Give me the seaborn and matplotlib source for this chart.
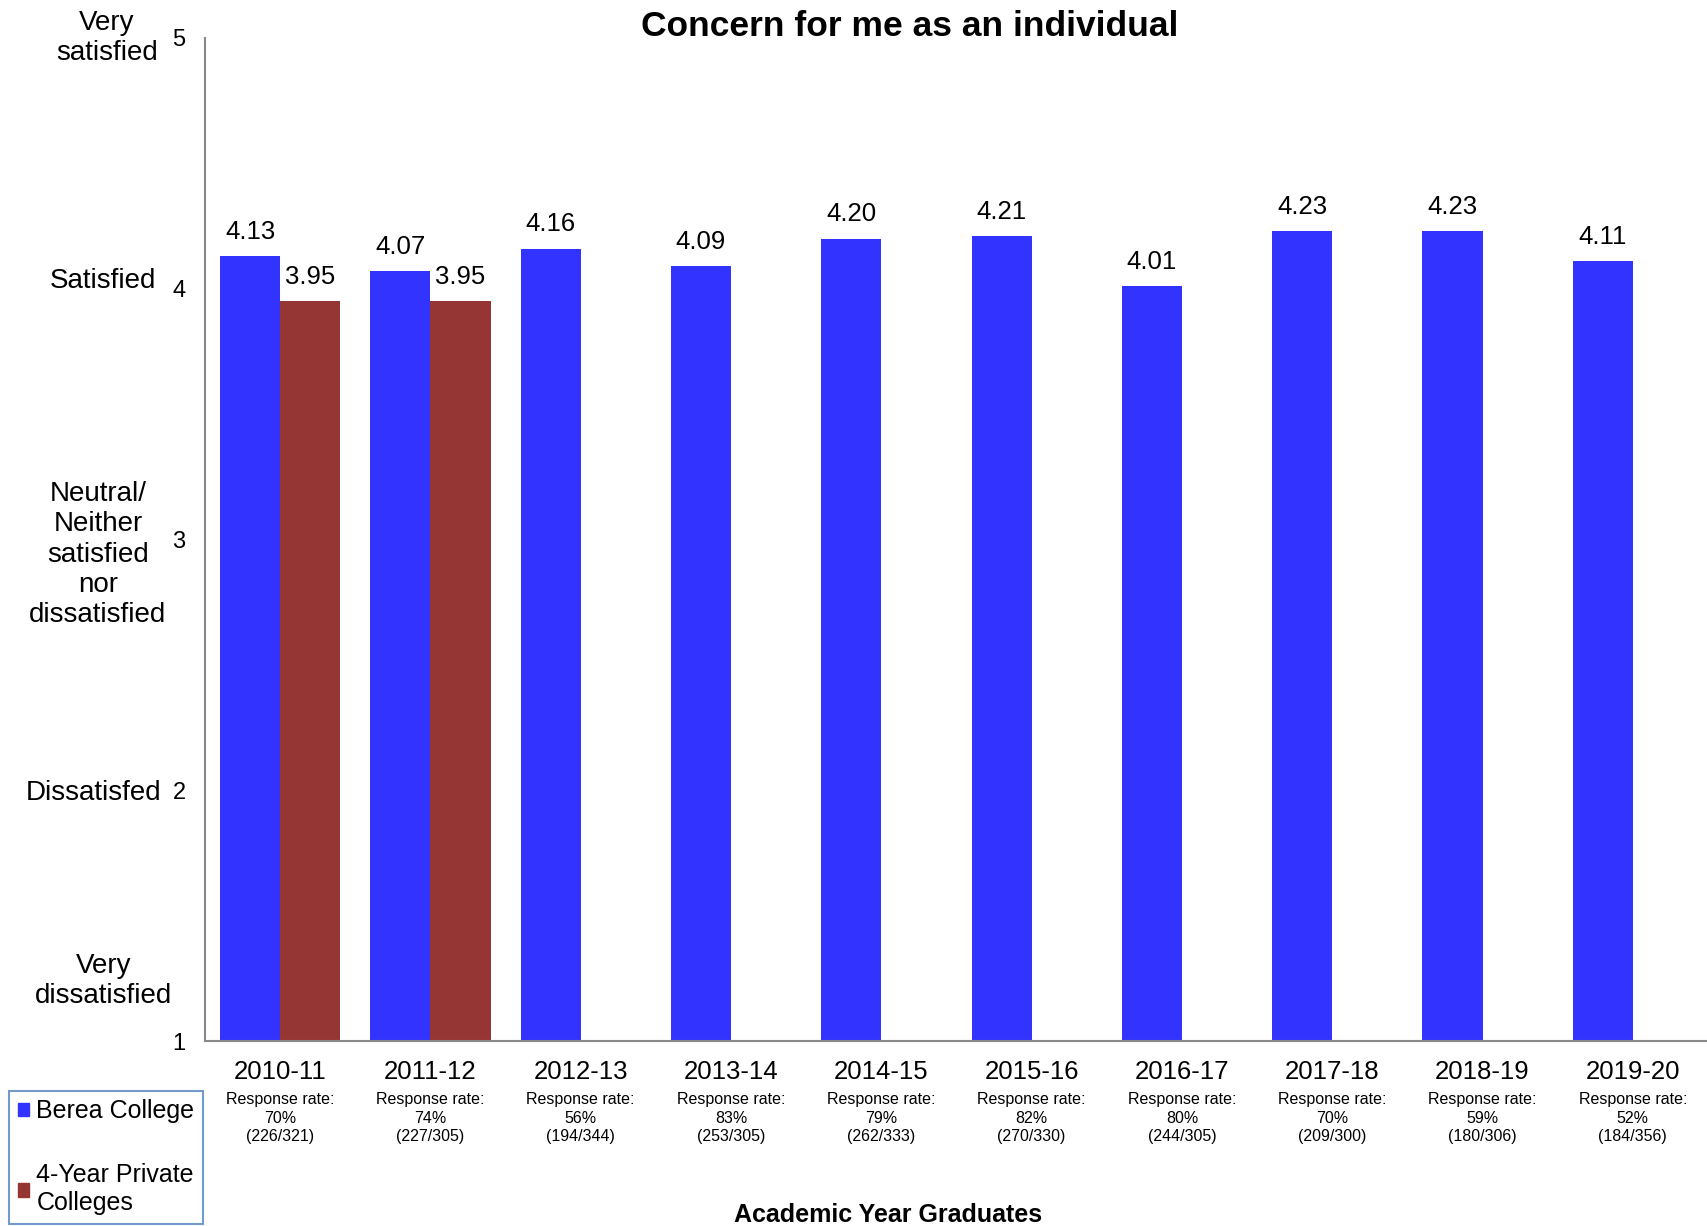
import numpy as np
import pandas as pd
import seaborn as sns
import matplotlib.pyplot as plt
import matplotlib.transforms as mtransforms
from matplotlib.patches import Patch

# Data
years = ["2010-11", "2011-12", "2012-13", "2013-14", "2014-15",
         "2015-16", "2016-17", "2017-18", "2018-19", "2019-20"]
berea = [4.13, 4.07, 4.16, 4.09, 4.20, 4.21, 4.01, 4.23, 4.23, 4.11]
private_years = ["2010-11", "2011-12"]
private = [3.95, 3.95]
response_rates = ["70%\n(226/321)", "74%\n(227/305)", "56%\n(194/344)", "83%\n(253/305)",
                  "79%\n(262/333)", "82%\n(270/330)", "80%\n(244/305)", "70%\n(209/300)",
                  "59%\n(180/306)", "52%\n(184/356)"]
scale_labels = ["Very\ndissatisfied", "Dissatisfed", "Neutral/\nNeither\nsatisfied\nnor\ndissatisfied",
                "Satisfied", "Very\nsatisfied"]

groups = ["Berea College", "4-Year Private Colleges"]
colors = ["#3333FF", "#963634"]

df = pd.concat([
    pd.DataFrame({"year": years, "score": berea, "group": groups[0]}),
    pd.DataFrame({"year": private_years, "score": private, "group": groups[1]}),
])

sns.set_style("white", rc={"text.color": "black", "xtick.color": "black", "ytick.color": "black"})
plt.rcParams["font.family"] = ["Liberation Sans", "DejaVu Sans"]

fig = plt.figure(figsize=(17.08, 12.26), dpi=100)
ax = fig.add_axes([205 / 1708, 1 - 1041 / 1226, 1 - 205 / 1708, (1041 - 38) / 1226])

sns.barplot(data=df, x="year", y="score", hue="group", order=years, hue_order=groups,
            palette=colors, width=0.8, saturation=1, linewidth=0, legend=False, ax=ax)

# value labels
for cont in ax.containers:
    ax.bar_label(cont, fmt="%.2f", padding=9, fontsize=18.5)

ax.set_ylim(1, 5)
ax.set_xlim(-0.5, len(years) - 0.5)
ax.set_yticks([1, 2, 3, 4, 5])
ax.set_yticklabels(["1", "2", "3", "4", "5"], fontsize=17)
ax.set_xticks(range(len(years)))
ax.set_xticklabels(years, fontsize=18.5)
ax.set_xticks(np.arange(-0.5, len(years), 1), minor=True)
ax.tick_params(axis="x", which="major", length=0, pad=14)
ax.tick_params(axis="x", which="minor", length=7, color="#888888", direction="out")
ax.tick_params(axis="y", length=6, color="#888888", direction="out", pad=8)
ax.set_xlabel("")
ax.set_ylabel("")

for side in ["top", "right"]:
    ax.spines[side].set_visible(False)
for side in ["left", "bottom"]:
    ax.spines[side].set_color("#888888")
    ax.spines[side].set_linewidth(1.5)

# descriptive scale labels on the left
trans_y = mtransforms.blended_transform_factory(fig.transFigure, ax.transData)
label_x = [104, 94, 98, 156, 107]
label_y = [1.24, 1.99, 2.94, 4.03, 5.0]
label_ha = ["center", "center", "center", "right", "center"]
for txt, lx, ly, ha in zip(scale_labels, label_x, label_y, label_ha):
    ax.text(lx / 1708, ly, txt, transform=trans_y, ha=ha, va="center",
            fontsize=20, linespacing=1.22, multialignment="center")

# response rates under the year labels
trans_x = mtransforms.blended_transform_factory(ax.transData, fig.transFigure)
for i, rr in enumerate(response_rates):
    ax.text(i, 1 - 1092 / 1226, "Response rate:\n" + rr, transform=trans_x,
            ha="center", va="top", fontsize=11.5, linespacing=1.3)

fig.text(910 / 1708, 1 - 26 / 1226, "Concern for me as an individual",
         ha="center", va="center", fontsize=25.5, fontweight="bold")
fig.text(888 / 1708, 1 - 1215 / 1226, "Academic Year Graduates",
         ha="center", va="center", fontsize=18, fontweight="bold")

handles = [Patch(facecolor=c, edgecolor=c) for c in colors]
leg = fig.legend(handles, ["Berea College", "4-Year Private\nColleges"],
                 loc="lower left", bbox_to_anchor=(9 / 1708, 2 / 1226),
                 fontsize=18, frameon=True, fancybox=False, handlelength=0.45,
                 handleheight=0.45, handletextpad=0.3, labelspacing=1.6,
                 borderpad=0.35, borderaxespad=0)
leg.get_frame().set_edgecolor("#4F81BD")
leg.get_frame().set_linewidth(1.5)

fig.savefig("out.png", dpi=100)
